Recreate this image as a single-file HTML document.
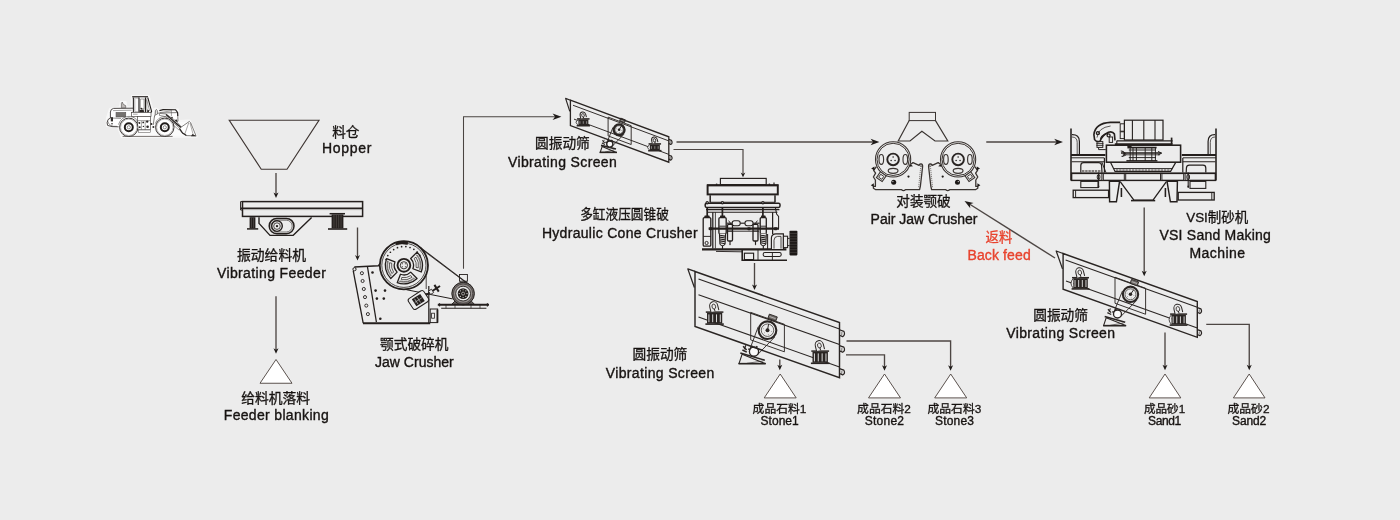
<!DOCTYPE html>
<html lang="zh"><head><meta charset="utf-8"><title>Sand making production line flow</title>
<style>
html,body{margin:0;padding:0;background:#ececec;}
body{width:1400px;height:520px;overflow:hidden;font-family:"Liberation Sans","Noto Sans CJK SC",sans-serif;}
svg{display:block;will-change:transform;}
text{font-family:"Liberation Sans","Noto Sans CJK SC",sans-serif;}
</style></head><body>
<svg width="1400" height="520" viewBox="0 0 1400 520" stroke-linecap="butt" stroke-linejoin="miter">
<rect width="1400" height="520" fill="#ececec"/>
<polygon points="229.25,120.25 319,120.25 287,169.25 261.25,169.25" fill="none" stroke="#3e3532" stroke-width="1.15" />
<g id="m_loader"><path d="M107 118 L110 109 L120 107.4 L121 102 L125.6 102 L126.4 107.6 L132 107.6 L132 96 L148.6 96 L152.4 110 L156 108.6 L158 110 L177.8 109.6 L178.4 121 L189.6 120.6 L196.6 136.6 L122 137 L118 127 L107 126 Z" fill="#fbfbfb" stroke="#f7f7f7" stroke-width="2.2" stroke-linejoin="round"/><polyline points="122.6,136.4 172.6,136.4" fill="none" stroke="#77726f" stroke-width="1" /><path d="M133 108.2 L113.6 108.4 Q110.6 108.8 110.4 112 L110.4 118 L108 119.6 Q106.4 123 107.6 125.4 L112 126.6 L118.6 126.8" fill="#ffffff" stroke="#3a3634" stroke-width="0.9" /><path d="M110.4 118 L121 118.4" fill="none" stroke="#4e4a48" stroke-width="0.6" /><polyline points="113,110.6 131.6,110.2" fill="none" stroke="#4e4a48" stroke-width="0.5" /><rect x="116" y="112.4" width="9.8" height="4.6" rx="0" fill="#7d7977" stroke="#4e4a48" stroke-width="0.5" /><polyline points="118,112.4 118,117" fill="none" stroke="#55514f" stroke-width="0.35" /><polyline points="120,112.4 120,117" fill="none" stroke="#55514f" stroke-width="0.35" /><polyline points="122,112.4 122,117" fill="none" stroke="#55514f" stroke-width="0.35" /><polyline points="124,112.4 124,117" fill="none" stroke="#55514f" stroke-width="0.35" /><rect x="110.8" y="117.2" width="2.2" height="4.2" rx="0" fill="#2f2b29" stroke="#4e4a48" stroke-width="0" /><circle cx="112" cy="123.8" r="0.8" fill="#2f2b29" stroke="#4e4a48" stroke-width="0" /><path d="M107.6 121 Q109 127 117 126.4" fill="none" stroke="#4e4a48" stroke-width="0.6" /><path d="M121.4 107.8 L121.4 103.4 L122.2 102 L123.4 104.4 L125.6 105.6 L125.8 107.8 Z" fill="#bdb9b7" stroke="#4e4a48" stroke-width="0.6" /><polyline points="132.2,96.7 148,96.7" fill="none" stroke="#3a3634" stroke-width="1.3" /><polyline points="132.6,98 147.6,98" fill="none" stroke="#4e4a48" stroke-width="0.5" /><path d="M133.4 97.4 L133.4 112.4" fill="none" stroke="#2a2624" stroke-width="1.1" /><path d="M139 97.6 L139 114.6 L145.4 114.6 L145.4 97.6" fill="#ffffff" stroke="#211d1b" stroke-width="1.2" /><path d="M140.4 99 L140.4 108.8 L144 108.8 L144 99 Z" fill="#ffffff" stroke="#4e4a48" stroke-width="0.5" /><path d="M147.8 97.6 L151.6 111.4 L149.6 114.4 L147.2 114.4" fill="none" stroke="#211d1b" stroke-width="1.1" /><path d="M146.6 99.4 L149.6 110.6 L147 113 L146.6 99.4" fill="none" stroke="#4e4a48" stroke-width="0.5" /><polyline points="134.8,99 134.8,111.6" fill="none" stroke="#4e4a48" stroke-width="0.4" /><polyline points="134.8,111.6 138.6,111.8" fill="none" stroke="#4e4a48" stroke-width="0.4" /><path d="M139.6 110 L143.6 109.4 L144.6 114.4 L139.4 114.4 Z" fill="#2a2624" stroke="#4e4a48" stroke-width="0" /><circle cx="141.4" cy="108.6" r="0.9" fill="#2a2624" stroke="#4e4a48" stroke-width="0" /><path d="M147.4 109.4 L149.2 110.4 L148.4 113.4 L147 113 Z" fill="#2a2624" stroke="#4e4a48" stroke-width="0" /><rect x="131.4" y="112.4" width="19.6" height="4" rx="0" fill="#ffffff" stroke="#4e4a48" stroke-width="0.7" /><polyline points="133,114.2 137.6,114.2" fill="none" stroke="#4e4a48" stroke-width="0.5" /><rect x="137.6" y="116.4" width="12.8" height="13.4" rx="0" fill="#ffffff" stroke="#4e4a48" stroke-width="0.7" /><polyline points="137.6,120.6 150.4,120.6" fill="none" stroke="#4e4a48" stroke-width="0.5" /><circle cx="139.4" cy="123" r="0.9" fill="#2a2624" stroke="#4e4a48" stroke-width="0" /><circle cx="143.2" cy="122.4" r="0.9" fill="#2a2624" stroke="#4e4a48" stroke-width="0" /><circle cx="147.2" cy="121.6" r="1.2" fill="#2a2624" stroke="#4e4a48" stroke-width="0" /><circle cx="139.8" cy="127.2" r="0.9" fill="#2a2624" stroke="#4e4a48" stroke-width="0" /><circle cx="147.6" cy="126.8" r="1.3" fill="#2a2624" stroke="#4e4a48" stroke-width="0" /><circle cx="151.4" cy="124" r="1" fill="#2a2624" stroke="#4e4a48" stroke-width="0" /><circle cx="153.4" cy="127" r="1" fill="#2a2624" stroke="#4e4a48" stroke-width="0" /><circle cx="143.4" cy="126.4" r="0.7" fill="#2a2624" stroke="#4e4a48" stroke-width="0" /><polyline points="141.4,121 141.4,129.6" fill="none" stroke="#4e4a48" stroke-width="0.5" /><polyline points="145.2,121 145.2,129.6" fill="none" stroke="#4e4a48" stroke-width="0.5" /><rect x="138.4" y="130" width="12" height="2.4" rx="0" fill="#ffffff" stroke="#4e4a48" stroke-width="0.5" /><polyline points="130.2,133.6 130.2,136.2" fill="none" stroke="#4e4a48" stroke-width="0.4" /><path d="M155 117.6 L155.4 110.6 Q156.2 108.6 157.2 110.4 L157.6 117.8" fill="#ffffff" stroke="#4e4a48" stroke-width="0.8" /><path d="M153.2 125 L154.6 115.6 L158.8 113 L177.6 112.6 L178 121.2 L173 124" fill="#ffffff" stroke="#4e4a48" stroke-width="0.7" /><path d="M159.4 110.6 L163 109.6 L175.6 109.8 L177.6 112.4 L177.8 116" fill="none" stroke="#211d1b" stroke-width="1.1" /><polyline points="160,112.6 171.4,110.8" fill="none" stroke="#4e4a48" stroke-width="0.5" /><polyline points="171.4,110.2 171.4,116" fill="none" stroke="#4e4a48" stroke-width="0.5" /><path d="M159.6 113.4 L166 114 L176 121 L181.6 127.2 L180 128.6 L173.4 122.6 L165.4 116.6 L159.4 115.4 Z" fill="#ffffff" stroke="#4e4a48" stroke-width="0.6" /><polyline points="166,114.6 181,127.6" fill="none" stroke="#211d1b" stroke-width="1.3" /><circle cx="176.2" cy="120.6" r="1.1" fill="#2a2624" stroke="#4e4a48" stroke-width="0" /><circle cx="172" cy="117.6" r="0.8" fill="#2a2624" stroke="#4e4a48" stroke-width="0" /><circle cx="177.4" cy="124.6" r="0.8" fill="#2a2624" stroke="#4e4a48" stroke-width="0" /><circle cx="169.6" cy="120.8" r="0.7" fill="#2a2624" stroke="#4e4a48" stroke-width="0" /><polyline points="167,119.4 179.4,130.4" fill="none" stroke="#4e4a48" stroke-width="0.5" /><path d="M179.4 128.4 L189.4 121.4 L190.6 122.6 L196 135.8 L186.6 135.6 L181.6 132.4 Z" fill="#ffffff" stroke="#4e4a48" stroke-width="0.7" /><polyline points="188.8,122.6 184.6,134.6" fill="none" stroke="#4e4a48" stroke-width="0.5" /><polyline points="190,123 193.4,135.4" fill="none" stroke="#4e4a48" stroke-width="0.45" /><path d="M179.6 128.6 L182.6 133 L186.4 135.4" fill="none" stroke="#2f2b29" stroke-width="1.2" /><polygon points="192.4,134 196.6,136.2 191,136.2" fill="#2f2b29" stroke="#4e4a48" stroke-width="0" /><circle cx="128.8" cy="127.3" r="9.2" fill="#ffffff" stroke="#3a3634" stroke-width="1" /><circle cx="128.8" cy="127.3" r="8.2" fill="none" stroke="#4e4a48" stroke-width="0.4" /><circle cx="128.8" cy="127.3" r="4" fill="#ffffff" stroke="#211d1b" stroke-width="2" /><circle cx="128.8" cy="127.3" r="1.6" fill="#ffffff" stroke="#4e4a48" stroke-width="0.6" /><circle cx="164.8" cy="127.3" r="9.2" fill="#ffffff" stroke="#3a3634" stroke-width="1" /><circle cx="164.8" cy="127.3" r="8.2" fill="none" stroke="#4e4a48" stroke-width="0.4" /><circle cx="164.8" cy="127.3" r="4" fill="#ffffff" stroke="#211d1b" stroke-width="2" /><circle cx="164.8" cy="127.3" r="1.6" fill="#ffffff" stroke="#4e4a48" stroke-width="0.6" /><path d="M118.4 124.6 Q121.4 116.4 129 116.4 Q136 116.6 138.4 123" fill="none" stroke="#4e4a48" stroke-width="0.6" /><path d="M155.2 123.6 Q158 116.6 165 116.6 Q171.6 116.8 174.2 123" fill="none" stroke="#4e4a48" stroke-width="0.6" /></g>
<g id="m_feeder"><rect x="242.5" y="201.6" width="120.1" height="14.8" rx="0" fill="none" stroke="#241f1d" stroke-width="1.5" /><polyline points="241,208.2 362.6,208.2" fill="none" stroke="#241f1d" stroke-width="1.5" /><polyline points="243,209.6 362,209.6" fill="none" stroke="#6d6866" stroke-width="0.5" /><path d="M242.5 201.6 L240.6 201.6 L240.6 210 L242.5 210" fill="none" stroke="#241f1d" stroke-width="1" /><rect x="249.6" y="217.2" width="5.8" height="11.2" rx="0" fill="#241f1d" stroke="#241f1d" stroke-width="0" /><polyline points="251.53,217.8 251.53,227.8" fill="none" stroke="#8a8583" stroke-width="0.35" /><polyline points="253.47,217.8 253.47,227.8" fill="none" stroke="#8a8583" stroke-width="0.35" /><polyline points="247,228.9 258.2,228.9" fill="none" stroke="#241f1d" stroke-width="1.5" /><polyline points="329.6,213.7 345,213.7" fill="none" stroke="#241f1d" stroke-width="1.5" /><rect x="331.6" y="214.4" width="11.8" height="14" rx="0" fill="#241f1d" stroke="#241f1d" stroke-width="0" /><polyline points="333.96,215 333.96,227.8" fill="none" stroke="#8a8583" stroke-width="0.35" /><polyline points="336.32,215 336.32,227.8" fill="none" stroke="#8a8583" stroke-width="0.35" /><polyline points="338.68,215 338.68,227.8" fill="none" stroke="#8a8583" stroke-width="0.35" /><polyline points="341.04,215 341.04,227.8" fill="none" stroke="#8a8583" stroke-width="0.35" /><polyline points="328,229 347.2,229" fill="none" stroke="#241f1d" stroke-width="1.6" /><polyline points="259,217.2 259,223.4 270,235.4 293,235.4 311.6,217.6" fill="none" stroke="#241f1d" stroke-width="1.4" stroke-linejoin="round"/><rect x="269.2" y="218.4" width="24.8" height="15.4" rx="7.7" fill="none" stroke="#241f1d" stroke-width="1.5" /><rect x="271" y="220.2" width="21.2" height="11.8" rx="5.9" fill="none" stroke="#241f1d" stroke-width="0.6" /><circle cx="277" cy="226.1" r="5.3" fill="none" stroke="#241f1d" stroke-width="1.4" /><circle cx="277" cy="226.1" r="3.3" fill="none" stroke="#241f1d" stroke-width="0.8" /><circle cx="277" cy="226.1" r="1.2" fill="#241f1d" stroke="#241f1d" stroke-width="0" /></g>
<g id="m_jaw"><circle cx="354.5" cy="269.2" r="1.6" fill="none" stroke="#241f1d" stroke-width="1" /><polyline points="354.3,266.9 378.4,265.7 380.2,263.6" fill="none" stroke="#241f1d" stroke-width="1.5" /><polyline points="353.2,270.6 363.2,323.1" fill="none" stroke="#241f1d" stroke-width="1.3" /><polyline points="367.4,266.4 376.4,322.2" fill="none" stroke="#241f1d" stroke-width="1.25" /><polyline points="363,323.2 430.2,323.2" fill="none" stroke="#241f1d" stroke-width="2" /><polyline points="428.8,286 428.8,323" fill="none" stroke="#241f1d" stroke-width="1.2" /><polyline points="426.2,276 426.2,289" fill="none" stroke="#241f1d" stroke-width="0.8" /><rect x="430.2" y="309" width="7.4" height="13.6" rx="0" fill="none" stroke="#241f1d" stroke-width="1" /><polyline points="437.4,309.6 437.4,322.6" fill="none" stroke="#241f1d" stroke-width="1.8" /><rect x="431.6" y="313.2" width="2.8" height="5" rx="0" fill="none" stroke="#241f1d" stroke-width="0.8" /><circle cx="361.9" cy="273.2" r="1.55" fill="none" stroke="#241f1d" stroke-width="0.9" /><circle cx="362.6" cy="281" r="1.55" fill="none" stroke="#241f1d" stroke-width="0.9" /><circle cx="363.8" cy="289" r="1.55" fill="none" stroke="#241f1d" stroke-width="0.9" /><circle cx="365" cy="297.1" r="1.55" fill="none" stroke="#241f1d" stroke-width="0.9" /><circle cx="366.3" cy="305.6" r="1.55" fill="none" stroke="#241f1d" stroke-width="0.9" /><circle cx="367.9" cy="314.1" r="1.55" fill="none" stroke="#241f1d" stroke-width="0.9" /><circle cx="372.5" cy="272.5" r="1.3" fill="#241f1d" stroke="#241f1d" stroke-width="0" /><circle cx="375.6" cy="290.6" r="1.3" fill="#241f1d" stroke="#241f1d" stroke-width="0" /><circle cx="385" cy="290.6" r="1.3" fill="#241f1d" stroke="#241f1d" stroke-width="0" /><circle cx="376.9" cy="298.6" r="1.3" fill="#241f1d" stroke="#241f1d" stroke-width="0" /><circle cx="383.8" cy="298.6" r="1.3" fill="#241f1d" stroke="#241f1d" stroke-width="0" /><circle cx="380.3" cy="318.8" r="1.3" fill="#241f1d" stroke="#241f1d" stroke-width="0" /><polyline points="415.5,243.9 470.6,285.6" fill="none" stroke="#241f1d" stroke-width="1.1" /><polyline points="412.6,242.6 472.4,287.4" fill="none" stroke="#241f1d" stroke-width="0.6" /><polyline points="406.3,289.7 452.6,298.9" fill="none" stroke="#241f1d" stroke-width="1" /><circle cx="403.9" cy="265.3" r="24.1" fill="#ececec" stroke="#241f1d" stroke-width="1.8" /><circle cx="403.9" cy="265.3" r="22.1" fill="none" stroke="#241f1d" stroke-width="0.8" /><path d="M395.4 242.3 Q401.8 240.2 408 241.9 L407.4 244.7 Q401.8 243.2 396.2 245 Z" fill="#241f1d" stroke="#241f1d" stroke-width="0.4" /><circle cx="386.02" cy="259.49" r="0.85" fill="#241f1d" stroke="#241f1d" stroke-width="0" /><circle cx="387.79" cy="255.62" r="0.85" fill="#241f1d" stroke="#241f1d" stroke-width="0" /><circle cx="390.38" cy="252.24" r="0.85" fill="#241f1d" stroke="#241f1d" stroke-width="0" /><circle cx="393.66" cy="249.53" r="0.85" fill="#241f1d" stroke="#241f1d" stroke-width="0" /><circle cx="397.47" cy="247.63" r="0.85" fill="#241f1d" stroke="#241f1d" stroke-width="0" /><circle cx="401.61" cy="246.64" r="0.85" fill="#241f1d" stroke="#241f1d" stroke-width="0" /><circle cx="405.87" cy="246.6" r="0.85" fill="#241f1d" stroke="#241f1d" stroke-width="0" /><circle cx="410.02" cy="247.52" r="0.85" fill="#241f1d" stroke="#241f1d" stroke-width="0" /><circle cx="413.86" cy="249.36" r="0.85" fill="#241f1d" stroke="#241f1d" stroke-width="0" /><circle cx="417.19" cy="252.01" r="0.85" fill="#241f1d" stroke="#241f1d" stroke-width="0" /><circle cx="419.84" cy="255.34" r="0.85" fill="#241f1d" stroke="#241f1d" stroke-width="0" /><circle cx="403.9" cy="265.3" r="6.4" fill="none" stroke="#241f1d" stroke-width="1.9" /><circle cx="403.9" cy="265.3" r="3.6" fill="none" stroke="#241f1d" stroke-width="0.9" /><circle cx="405.38" cy="266.78" r="0.55" fill="#241f1d" stroke="#241f1d" stroke-width="0" /><circle cx="402.42" cy="266.78" r="0.55" fill="#241f1d" stroke="#241f1d" stroke-width="0" /><circle cx="402.42" cy="263.82" r="0.55" fill="#241f1d" stroke="#241f1d" stroke-width="0" /><circle cx="405.38" cy="263.82" r="0.55" fill="#241f1d" stroke="#241f1d" stroke-width="0" /><path d="M417.05 278.45A18.6 18.6 0 0 1 397.23 282.66L400.46 274.26A9.6 9.6 0 0 0 410.69 272.09 Z" fill="none" stroke="#241f1d" stroke-width="1.3" stroke-linejoin="round"/><path d="M412.06 277.4A14.6 14.6 0 0 1 401.36 279.68L401.75 277.51A12.4 12.4 0 0 0 410.83 275.58 Z" fill="none" stroke="#241f1d" stroke-width="0.7" stroke-linejoin="round"/><path d="M414.54 278.43A16.9 16.9 0 0 1 399.53 281.62L399.71 280.95A16.2 16.2 0 0 0 414.09 277.89 Z" fill="none" stroke="#241f1d" stroke-width="0.5" /><path d="M390.75 278.45A18.6 18.6 0 0 1 386.54 258.63L394.94 261.86A9.6 9.6 0 0 0 397.11 272.09 Z" fill="none" stroke="#241f1d" stroke-width="1.3" stroke-linejoin="round"/><path d="M391.8 273.46A14.6 14.6 0 0 1 389.52 262.76L391.69 263.15A12.4 12.4 0 0 0 393.62 272.23 Z" fill="none" stroke="#241f1d" stroke-width="0.7" stroke-linejoin="round"/><path d="M390.77 275.94A16.9 16.9 0 0 1 387.58 260.93L388.25 261.11A16.2 16.2 0 0 0 391.31 275.49 Z" fill="none" stroke="#241f1d" stroke-width="0.5" /><path d="M417.05 252.15A18.6 18.6 0 0 1 421.26 271.97L412.86 268.74A9.6 9.6 0 0 0 410.69 258.51 Z" fill="none" stroke="#241f1d" stroke-width="1.3" stroke-linejoin="round"/><path d="M416 257.14A14.6 14.6 0 0 1 418.28 267.84L416.11 267.45A12.4 12.4 0 0 0 414.18 258.37 Z" fill="none" stroke="#241f1d" stroke-width="0.7" stroke-linejoin="round"/><path d="M417.03 254.66A16.9 16.9 0 0 1 420.22 269.67L419.55 269.49A16.2 16.2 0 0 0 416.49 255.11 Z" fill="none" stroke="#241f1d" stroke-width="0.5" /><g transform="translate(0.6 -0.8) rotate(-33 418.2 300.6)"><rect x="408.6" y="294.2" width="18.4" height="12.8" rx="2.5" fill="#ececec" stroke="#241f1d" stroke-width="1" /><rect x="412.6" y="296.4" width="10" height="8.4" rx="0" fill="#241f1d" stroke="#241f1d" stroke-width="0" /><polyline points="415.2,297.4 415.2,303.8" fill="none" stroke="#e4e4e4" stroke-width="0.55" /><polyline points="418.2,297.4 418.2,303.8" fill="none" stroke="#e4e4e4" stroke-width="0.55" /><polyline points="413.4,300.6 421.8,300.6" fill="none" stroke="#e4e4e4" stroke-width="0.5" /><polyline points="427,300.6 443.5,300.6" fill="none" stroke="#241f1d" stroke-width="2" /><polyline points="439.4,296.6 439.4,304.6" fill="none" stroke="#241f1d" stroke-width="2" /><rect x="431" y="298.6" width="3.6" height="4" rx="0" fill="#ececec" stroke="#241f1d" stroke-width="0.8" /></g><rect x="459.5" y="274.5" width="7.9" height="6.7" rx="0" fill="none" stroke="#241f1d" stroke-width="0.9" /><polyline points="460.6,281.2 460.6,284 466.2,284 466.2,281.2" fill="none" stroke="#241f1d" stroke-width="0.7" /><polygon points="455,301 451.6,304.4 474.6,304.4 471.2,301" fill="#6d6866" stroke="#241f1d" stroke-width="0.9" /><circle cx="463.1" cy="293.6" r="11.3" fill="#6f6a68" stroke="#241f1d" stroke-width="1" /><circle cx="463.1" cy="293.6" r="9.6" fill="#96918f" stroke="#3d3836" stroke-width="0.7" /><circle cx="463.1" cy="293.6" r="7.4" fill="#ececec" stroke="#241f1d" stroke-width="0.9" /><circle cx="463.1" cy="293.6" r="5.4" fill="#241f1d" stroke="#241f1d" stroke-width="0" /><circle cx="467" cy="293.6" r="0.55" fill="#efefef" stroke="#241f1d" stroke-width="0" /><circle cx="465.86" cy="296.36" r="0.55" fill="#efefef" stroke="#241f1d" stroke-width="0" /><circle cx="463.1" cy="297.5" r="0.55" fill="#efefef" stroke="#241f1d" stroke-width="0" /><circle cx="460.34" cy="296.36" r="0.55" fill="#efefef" stroke="#241f1d" stroke-width="0" /><circle cx="459.2" cy="293.6" r="0.55" fill="#efefef" stroke="#241f1d" stroke-width="0" /><circle cx="460.34" cy="290.84" r="0.55" fill="#efefef" stroke="#241f1d" stroke-width="0" /><circle cx="463.1" cy="289.7" r="0.55" fill="#efefef" stroke="#241f1d" stroke-width="0" /><circle cx="465.86" cy="290.84" r="0.55" fill="#efefef" stroke="#241f1d" stroke-width="0" /><circle cx="463.1" cy="293.6" r="1.5" fill="#241f1d" stroke="#efefef" stroke-width="0.6" /><polyline points="437.8,304.7 489,304.7" fill="none" stroke="#241f1d" stroke-width="1.9" /><polyline points="441.2,308.2 486.4,308.2" fill="none" stroke="#241f1d" stroke-width="1.1" /><polyline points="446,304.7 446,308.2" fill="none" stroke="#241f1d" stroke-width="0.7" /><polyline points="455,304.7 455,308.2" fill="none" stroke="#241f1d" stroke-width="0.7" /><polyline points="471,304.7 471,308.2" fill="none" stroke="#241f1d" stroke-width="0.7" /><polyline points="480,304.7 480,308.2" fill="none" stroke="#241f1d" stroke-width="0.7" /><polyline points="439.5,303.2 439.5,306.4" fill="none" stroke="#241f1d" stroke-width="1.2" /><polyline points="487.4,303.2 487.4,306.4" fill="none" stroke="#241f1d" stroke-width="1.2" /></g>
<g id="m_screens"><polygon points="570.4,100.19 668.8,136.79 668.8,162.19 570.4,125.59" fill="#ececec" stroke="#2a2523" stroke-width="0" /><path d="M668.8 139.4 L671.4 140.37 Q673.1 143.17 670.67 144.5 L668.8 143.5" fill="#ececec" stroke="#2a2523" stroke-width="1.2" stroke-linejoin="round"/><polyline points="670.23,141.13 670.1,143.68" fill="none" stroke="#2a2523" stroke-width="0.6" /><path d="M668.8 155.2 L671.4 156.17 Q673.1 158.87 670.67 160.1 L668.8 159.1" fill="#ececec" stroke="#2a2523" stroke-width="1.2" stroke-linejoin="round"/><polyline points="670.23,156.93 670.1,159.28" fill="none" stroke="#2a2523" stroke-width="0.6" /><polyline points="573,105.25 668.8,140.89" fill="none" stroke="#2a2523" stroke-width="0.95" /><polyline points="574,119.12 668.8,154.39" fill="none" stroke="#2a2523" stroke-width="0.95" /><polygon points="608.1,117.11 631.2,125.7 631.2,144.5 608.1,135.91" fill="none" stroke="#2f2a27" stroke-width="0.95" /><rect x="578.25" y="119.4" width="10.1" height="5.8" rx="0" fill="#2a2523" stroke="#2a2523" stroke-width="0" /><polyline points="579.93,121.2 579.93,123.8" fill="none" stroke="#e9e9e9" stroke-width="0.5" /><polyline points="583.3,121.2 583.3,123.8" fill="none" stroke="#e9e9e9" stroke-width="0.5" /><polyline points="586.67,121.2 586.67,123.8" fill="none" stroke="#e9e9e9" stroke-width="0.5" /><polyline points="577.05,118.9 589.55,118.9" fill="none" stroke="#2a2523" stroke-width="1.5" /><polyline points="576.65,125.7 589.95,125.7" fill="none" stroke="#2a2523" stroke-width="1.6" /><path d="M578.25 119.7 Q573.85 122.3 578.25 124.9" fill="#ececec" stroke="#2a2523" stroke-width="0.8" /><g transform="rotate(-14 583.3 118.2)"><path d="M580.82 118 L580.82 115.05 A2.88 3.31 0 0 1 586.57 115.05 L586.57 118" fill="#ececec" stroke="#2a2523" stroke-width="1" /><ellipse cx="583.7" cy="115.35" rx="1.29" ry="1.78" fill="none" stroke="#2a2523" stroke-width="0.8" /><polyline points="583.7,116.77 583.7,118.2" fill="none" stroke="#2a2523" stroke-width="0.9" /></g><rect x="649.75" y="144.4" width="10.1" height="5.8" rx="0" fill="#2a2523" stroke="#2a2523" stroke-width="0" /><polyline points="651.43,146.2 651.43,148.8" fill="none" stroke="#e9e9e9" stroke-width="0.5" /><polyline points="654.8,146.2 654.8,148.8" fill="none" stroke="#e9e9e9" stroke-width="0.5" /><polyline points="658.17,146.2 658.17,148.8" fill="none" stroke="#e9e9e9" stroke-width="0.5" /><polyline points="648.55,143.9 661.05,143.9" fill="none" stroke="#2a2523" stroke-width="1.5" /><polyline points="648.15,150.7 661.45,150.7" fill="none" stroke="#2a2523" stroke-width="1.6" /><path d="M649.75 144.7 Q645.35 147.3 649.75 149.9" fill="#ececec" stroke="#2a2523" stroke-width="0.8" /><g transform="rotate(-14 654.8 143.2)"><path d="M652.32 143 L652.32 140.05 A2.88 3.31 0 0 1 658.07 140.05 L658.07 143" fill="#ececec" stroke="#2a2523" stroke-width="1" /><ellipse cx="655.2" cy="140.35" rx="1.29" ry="1.78" fill="none" stroke="#2a2523" stroke-width="0.8" /><polyline points="655.2,141.77 655.2,143.2" fill="none" stroke="#2a2523" stroke-width="0.9" /></g><polygon points="600.2,152.4 616.4,152.4 602.14,146.57" fill="#ececec" stroke="#2a2523" stroke-width="1.1" stroke-linejoin="round"/><polyline points="601.01,145.37 616,149" fill="none" stroke="#2a2523" stroke-width="1.6" /><polyline points="599.6,152.4 617,152.4" fill="none" stroke="#2a2523" stroke-width="1.5" /><polyline points="605.06,152.1 614.4,149.8" fill="none" stroke="#2a2523" stroke-width="0.6" /><polyline points="606.9,142.75 605.45,142.07" fill="none" stroke="#2a2523" stroke-width="1.5" /><polyline points="608.71,141.09 608.16,139.59" fill="none" stroke="#2a2523" stroke-width="1.5" /><polyline points="611.4,141.33 612.2,139.94" fill="none" stroke="#2a2523" stroke-width="1.5" /><polyline points="602.38,140.42 604.76,143.01" fill="none" stroke="#2a2523" stroke-width="1.02" /><polyline points="604.22,139.74 603.26,142.47" fill="none" stroke="#2a2523" stroke-width="0.82" /><polyline points="601.9,143.01 604.9,144.51" fill="none" stroke="#2a2523" stroke-width="1.02" /><circle cx="609.8" cy="144.1" r="3.1" fill="#fbfbfb" stroke="#2a2523" stroke-width="1.35" /><polyline points="612.96,127.38 606.82,142.93" fill="none" stroke="#2a2523" stroke-width="0.9" /><polyline points="623.8,134.43 612.08,146.34" fill="none" stroke="#2a2523" stroke-width="0.9" /><circle cx="619.1" cy="129.8" r="5.45" fill="#ececec" stroke="#2a2523" stroke-width="2.3" /><circle cx="619.1" cy="129.8" r="4.16" fill="none" stroke="#2a2523" stroke-width="0.7" /><circle cx="619.1" cy="129.8" r="1.32" fill="#2a2523" stroke="#2a2523" stroke-width="0" /><polyline points="619.1,129.8 621.15,126.26" fill="none" stroke="#2a2523" stroke-width="1" /><circle cx="621.7" cy="130.75" r="0.35" fill="#2a2523" stroke="#2a2523" stroke-width="0" /><circle cx="619.58" cy="132.53" r="0.35" fill="#2a2523" stroke="#2a2523" stroke-width="0" /><circle cx="616.98" cy="131.58" r="0.35" fill="#2a2523" stroke="#2a2523" stroke-width="0" /><circle cx="616.5" cy="128.85" r="0.35" fill="#2a2523" stroke="#2a2523" stroke-width="0" /><g transform="rotate(20.41 622.6 120.4)"><rect x="620" y="118.9" width="5.2" height="3" rx="0" fill="#6d6865" stroke="#2a2523" stroke-width="0.8" /><polyline points="621,120.4 624.2,120.4" fill="none" stroke="#d8d8d8" stroke-width="0.6" /></g><polygon points="570.4,100.19 668.8,136.79 668.8,162.19 570.4,125.59" fill="none" stroke="#2a2523" stroke-width="1.3" /><polyline points="570.4,100.19 565.6,98.4 569.8,111.44" fill="none" stroke="#2a2523" stroke-width="1.17" stroke-linejoin="round"/><polygon points="695,271.45 839.5,322.6 839.5,377.6 695,326.45" fill="#ececec" stroke="#2a2523" stroke-width="0" /><path d="M839.5 329.8 L843.9 331.36 Q845.6 334.86 842.67 336.72 L839.5 335.3" fill="#ececec" stroke="#2a2523" stroke-width="1.2" stroke-linejoin="round"/><polyline points="841.92,331.86 841.7,335.78" fill="none" stroke="#2a2523" stroke-width="0.6" /><path d="M839.5 345.6 L843.9 347.16 Q845.6 350.56 842.67 352.32 L839.5 350.9" fill="#ececec" stroke="#2a2523" stroke-width="1.2" stroke-linejoin="round"/><polyline points="841.92,347.66 841.7,351.38" fill="none" stroke="#2a2523" stroke-width="0.6" /><path d="M839.5 368.6 L843.9 370.16 Q845.6 373.36 842.67 374.92 L839.5 373.5" fill="#ececec" stroke="#2a2523" stroke-width="1.2" stroke-linejoin="round"/><polyline points="841.92,370.66 841.7,373.98" fill="none" stroke="#2a2523" stroke-width="0.6" /><polyline points="698.5,278.99 839.5,328.9" fill="none" stroke="#2a2523" stroke-width="1.1" /><polyline points="698.5,294.69 839.5,344.6" fill="none" stroke="#2a2523" stroke-width="1.1" /><polyline points="698.5,316.99 839.5,366.9" fill="none" stroke="#2a2523" stroke-width="1.1" /><polygon points="750.7,312.37 784.4,324.3 784.4,351.8 750.7,339.87" fill="none" stroke="#2f2a27" stroke-width="0.95" /><rect x="707" y="312.6" width="15.2" height="11" rx="0" fill="#2a2523" stroke="#2a2523" stroke-width="0" /><polyline points="708.9,314.4 708.9,322.2" fill="none" stroke="#e9e9e9" stroke-width="0.92" /><polyline points="712.7,314.4 712.7,322.2" fill="none" stroke="#e9e9e9" stroke-width="0.92" /><polyline points="716.5,314.4 716.5,322.2" fill="none" stroke="#e9e9e9" stroke-width="0.92" /><polyline points="720.3,314.4 720.3,322.2" fill="none" stroke="#e9e9e9" stroke-width="0.92" /><polyline points="705.8,312.1 723.4,312.1" fill="none" stroke="#2a2523" stroke-width="1.5" /><polyline points="705.4,324.1 723.8,324.1" fill="none" stroke="#2a2523" stroke-width="1.6" /><g transform="rotate(-14 714.6 311.4)"><path d="M710.95 311.2 L710.95 306.25 A4.05 4.66 0 0 1 719.05 306.25 L719.05 311.2" fill="#ececec" stroke="#2a2523" stroke-width="1" /><ellipse cx="715" cy="306.55" rx="1.82" ry="2.51" fill="none" stroke="#2a2523" stroke-width="0.8" /><polyline points="715,308.68 715,311.4" fill="none" stroke="#2a2523" stroke-width="0.9" /></g><rect x="812.5" y="351.6" width="15.4" height="11.2" rx="0" fill="#2a2523" stroke="#2a2523" stroke-width="0" /><polyline points="814.43,353.4 814.43,361.4" fill="none" stroke="#e9e9e9" stroke-width="0.93" /><polyline points="818.28,353.4 818.28,361.4" fill="none" stroke="#e9e9e9" stroke-width="0.93" /><polyline points="822.13,353.4 822.13,361.4" fill="none" stroke="#e9e9e9" stroke-width="0.93" /><polyline points="825.98,353.4 825.98,361.4" fill="none" stroke="#e9e9e9" stroke-width="0.93" /><polyline points="811.3,351.1 829.1,351.1" fill="none" stroke="#2a2523" stroke-width="1.5" /><polyline points="810.9,363.3 829.5,363.3" fill="none" stroke="#2a2523" stroke-width="1.6" /><g transform="rotate(-14 820.2 350.4)"><path d="M816.51 350.2 L816.51 345.17 A4.09 4.71 0 0 1 824.69 345.17 L824.69 350.2" fill="#ececec" stroke="#2a2523" stroke-width="1" /><ellipse cx="820.6" cy="345.47" rx="1.84" ry="2.54" fill="none" stroke="#2a2523" stroke-width="0.8" /><polyline points="820.6,347.63 820.6,350.4" fill="none" stroke="#2a2523" stroke-width="0.9" /></g><polygon points="739,363.6 765.2,363.6 742.14,354.17" fill="#ececec" stroke="#2a2523" stroke-width="1.1" stroke-linejoin="round"/><polyline points="740.31,352.97 764.8,360.2" fill="none" stroke="#2a2523" stroke-width="1.6" /><polyline points="738.4,363.6 765.8,363.6" fill="none" stroke="#2a2523" stroke-width="1.5" /><polyline points="746.86,363.3 763.2,361" fill="none" stroke="#2a2523" stroke-width="0.6" /><polyline points="749.74,349.61 748.29,348.94" fill="none" stroke="#2a2523" stroke-width="1.5" /><polyline points="752.39,347.18 751.85,345.68" fill="none" stroke="#2a2523" stroke-width="1.5" /><polyline points="756.35,347.53 757.15,346.14" fill="none" stroke="#2a2523" stroke-width="1.5" /><polyline points="743.1,346.2 746.6,350" fill="none" stroke="#2a2523" stroke-width="1.5" /><polyline points="745.8,345.2 744.4,349.2" fill="none" stroke="#2a2523" stroke-width="1.2" /><polyline points="742.4,350 746.8,352.2" fill="none" stroke="#2a2523" stroke-width="1.5" /><circle cx="754" cy="351.6" r="4.6" fill="#fbfbfb" stroke="#2a2523" stroke-width="1.35" /><polyline points="758.22,326.75 749.59,349.96" fill="none" stroke="#2a2523" stroke-width="0.9" /><polyline points="774.61,337.09 757.37,354.87" fill="none" stroke="#2a2523" stroke-width="0.9" /><circle cx="767.5" cy="330.2" r="8.85" fill="#ececec" stroke="#2a2523" stroke-width="2.1" /><circle cx="767.5" cy="330.2" r="6.24" fill="none" stroke="#2a2523" stroke-width="0.7" /><circle cx="767.5" cy="330.2" r="1.98" fill="#2a2523" stroke="#2a2523" stroke-width="0" /><polyline points="767.5,330.2 768.57,324.16" fill="none" stroke="#2a2523" stroke-width="1" /><circle cx="771.41" cy="331.62" r="0.35" fill="#2a2523" stroke="#2a2523" stroke-width="0" /><circle cx="768.22" cy="334.29" r="0.35" fill="#2a2523" stroke="#2a2523" stroke-width="0" /><circle cx="764.31" cy="332.87" r="0.35" fill="#2a2523" stroke="#2a2523" stroke-width="0" /><circle cx="763.59" cy="328.78" r="0.35" fill="#2a2523" stroke="#2a2523" stroke-width="0" /><g transform="rotate(19.49 772.6 317.6)"><rect x="768.4" y="315.4" width="8.4" height="4.4" rx="0" fill="#6d6865" stroke="#2a2523" stroke-width="0.8" /><polyline points="769.4,317.6 775.8,317.6" fill="none" stroke="#d8d8d8" stroke-width="0.6" /></g><polygon points="695,271.45 839.5,322.6 839.5,377.6 695,326.45" fill="none" stroke="#2a2523" stroke-width="1.45" /><polyline points="695,271.45 687.8,268.9 694.4,287.46" fill="none" stroke="#2a2523" stroke-width="1.3" stroke-linejoin="round"/><polygon points="1063.1,253.47 1197.3,301.58 1197.3,337.38 1063.1,289.27" fill="#ececec" stroke="#2a2523" stroke-width="0" /><path d="M1197.3 307.6 L1200.9 308.89 Q1202.6 311.99 1199.89 313.53 L1197.3 312.3" fill="#ececec" stroke="#2a2523" stroke-width="1.2" stroke-linejoin="round"/><polyline points="1199.28,309.51 1199.1,312.65" fill="none" stroke="#2a2523" stroke-width="0.6" /><path d="M1197.3 329.6 L1200.9 330.89 Q1202.6 334.09 1199.89 335.73 L1197.3 334.5" fill="#ececec" stroke="#2a2523" stroke-width="1.2" stroke-linejoin="round"/><polyline points="1199.28,331.51 1199.1,334.85" fill="none" stroke="#2a2523" stroke-width="0.6" /><polyline points="1065.6,259.97 1197.3,307.18" fill="none" stroke="#2a2523" stroke-width="1.05" /><polyline points="1066,280.91 1197.3,327.98" fill="none" stroke="#2a2523" stroke-width="1.05" /><polygon points="1115,277.28 1145.6,288.25 1145.6,314.25 1115,303.28" fill="none" stroke="#2f2a27" stroke-width="0.95" /><rect x="1073.2" y="278.2" width="14.6" height="10.2" rx="0" fill="#2a2523" stroke="#2a2523" stroke-width="0" /><polyline points="1075.03,280 1075.03,287" fill="none" stroke="#e9e9e9" stroke-width="0.88" /><polyline points="1078.67,280 1078.67,287" fill="none" stroke="#e9e9e9" stroke-width="0.88" /><polyline points="1082.33,280 1082.33,287" fill="none" stroke="#e9e9e9" stroke-width="0.88" /><polyline points="1085.98,280 1085.98,287" fill="none" stroke="#e9e9e9" stroke-width="0.88" /><polyline points="1072,277.7 1089,277.7" fill="none" stroke="#2a2523" stroke-width="1.5" /><polyline points="1071.6,288.9 1089.4,288.9" fill="none" stroke="#2a2523" stroke-width="1.6" /><path d="M1073.2 278.5 Q1068.8 283.3 1073.2 288.1" fill="#ececec" stroke="#2a2523" stroke-width="0.8" /><g transform="rotate(-14 1080.5 277)"><path d="M1076.99 276.8 L1076.99 272.16 A3.91 4.5 0 0 1 1084.81 272.16 L1084.81 276.8" fill="#ececec" stroke="#2a2523" stroke-width="1" /><ellipse cx="1080.9" cy="272.46" rx="1.76" ry="2.42" fill="none" stroke="#2a2523" stroke-width="0.8" /><polyline points="1080.9,274.5 1080.9,277" fill="none" stroke="#2a2523" stroke-width="0.9" /></g><rect x="1171.3" y="314.6" width="14.6" height="10" rx="0" fill="#2a2523" stroke="#2a2523" stroke-width="0" /><polyline points="1173.12,316.4 1173.12,323.2" fill="none" stroke="#e9e9e9" stroke-width="0.88" /><polyline points="1176.77,316.4 1176.77,323.2" fill="none" stroke="#e9e9e9" stroke-width="0.88" /><polyline points="1180.42,316.4 1180.42,323.2" fill="none" stroke="#e9e9e9" stroke-width="0.88" /><polyline points="1184.08,316.4 1184.08,323.2" fill="none" stroke="#e9e9e9" stroke-width="0.88" /><polyline points="1170.1,314.1 1187.1,314.1" fill="none" stroke="#2a2523" stroke-width="1.5" /><polyline points="1169.7,325.1 1187.5,325.1" fill="none" stroke="#2a2523" stroke-width="1.6" /><path d="M1171.3 314.9 Q1166.9 319.6 1171.3 324.3" fill="#ececec" stroke="#2a2523" stroke-width="0.8" /><g transform="rotate(-14 1178.6 313.4)"><path d="M1175.09 313.2 L1175.09 308.63 A3.91 4.5 0 0 1 1182.91 308.63 L1182.91 313.2" fill="#ececec" stroke="#2a2523" stroke-width="1" /><ellipse cx="1179" cy="308.93" rx="1.76" ry="2.42" fill="none" stroke="#2a2523" stroke-width="0.8" /><polyline points="1179,310.98 1179,313.4" fill="none" stroke="#2a2523" stroke-width="0.9" /></g><polygon points="1103.6,325.6 1125.6,325.6 1106.24,317.68" fill="#ececec" stroke="#2a2523" stroke-width="1.1" stroke-linejoin="round"/><polyline points="1104.7,316.48 1125.2,322.2" fill="none" stroke="#2a2523" stroke-width="1.6" /><polyline points="1103,325.6 1126.2,325.6" fill="none" stroke="#2a2523" stroke-width="1.5" /><polyline points="1110.2,325.3 1123.6,323" fill="none" stroke="#2a2523" stroke-width="0.6" /><polyline points="1113.78,312.27 1112.33,311.59" fill="none" stroke="#2a2523" stroke-width="1.5" /><polyline points="1116.1,310.15 1115.55,308.64" fill="none" stroke="#2a2523" stroke-width="1.5" /><polyline points="1119.55,310.45 1120.35,309.06" fill="none" stroke="#2a2523" stroke-width="1.5" /><polyline points="1107.99,309.29 1111.04,312.6" fill="none" stroke="#2a2523" stroke-width="1.31" /><polyline points="1110.35,308.42 1109.13,311.91" fill="none" stroke="#2a2523" stroke-width="1.05" /><polyline points="1107.38,312.6 1111.22,314.52" fill="none" stroke="#2a2523" stroke-width="1.31" /><circle cx="1117.5" cy="314" r="4" fill="#fbfbfb" stroke="#2a2523" stroke-width="1.35" /><polyline points="1122.44,291.02 1113.7,312.45" fill="none" stroke="#2a2523" stroke-width="0.9" /><polyline points="1136.69,300.42 1120.42,316.88" fill="none" stroke="#2a2523" stroke-width="0.9" /><circle cx="1130.5" cy="294.3" r="7.65" fill="#ececec" stroke="#2a2523" stroke-width="2.1" /><circle cx="1130.5" cy="294.3" r="5.48" fill="none" stroke="#2a2523" stroke-width="0.7" /><circle cx="1130.5" cy="294.3" r="1.74" fill="#2a2523" stroke="#2a2523" stroke-width="0" /><polyline points="1130.5,294.3 1133.59,289.88" fill="none" stroke="#2a2523" stroke-width="1" /><circle cx="1133.93" cy="295.55" r="0.35" fill="#2a2523" stroke="#2a2523" stroke-width="0" /><circle cx="1131.13" cy="297.9" r="0.35" fill="#2a2523" stroke="#2a2523" stroke-width="0" /><circle cx="1127.7" cy="296.65" r="0.35" fill="#2a2523" stroke="#2a2523" stroke-width="0" /><circle cx="1127.07" cy="293.05" r="0.35" fill="#2a2523" stroke="#2a2523" stroke-width="0" /><g transform="rotate(19.72 1134.4 282.6)"><rect x="1130.6" y="280.5" width="7.6" height="4.2" rx="0" fill="#6d6865" stroke="#2a2523" stroke-width="0.8" /><polyline points="1131.6,282.6 1137.2,282.6" fill="none" stroke="#d8d8d8" stroke-width="0.6" /></g><polygon points="1063.1,253.47 1197.3,301.58 1197.3,337.38 1063.1,289.27" fill="none" stroke="#2a2523" stroke-width="1.4" /><polyline points="1063.1,253.47 1056.2,251 1062.5,268.87" fill="none" stroke="#2a2523" stroke-width="1.26" stroke-linejoin="round"/></g>
<g id="m_cone"><rect x="720.4" y="178.4" width="45.8" height="6.2" rx="0" fill="none" stroke="#241f1d" stroke-width="1.15" /><rect x="707.6" y="185.4" width="70.2" height="9" rx="0" fill="none" stroke="#241f1d" stroke-width="1.95" /><polyline points="707,184.9 778.4,184.9" fill="none" stroke="#241f1d" stroke-width="1.38" /><polyline points="716.6,183.6 716.6,185" fill="none" stroke="#241f1d" stroke-width="1.38" /><polyline points="769.4,183.6 769.4,185" fill="none" stroke="#241f1d" stroke-width="1.38" /><polyline points="774,182.4 774,185" fill="none" stroke="#241f1d" stroke-width="1.15" /><polyline points="710.2,195.2 710.2,202.4" fill="none" stroke="#241f1d" stroke-width="1.49" /><polyline points="775,195.2 775,202.4" fill="none" stroke="#241f1d" stroke-width="1.49" /><polyline points="710.2,202.2 775,202.2" fill="none" stroke="#241f1d" stroke-width="1.03" /><rect x="705.2" y="203.2" width="74.8" height="4.2" rx="1.4" fill="#ececec" stroke="#241f1d" stroke-width="1.49" /><polyline points="706,209.6 779.4,209.6" fill="none" stroke="#241f1d" stroke-width="1.15" /><polyline points="708,212.2 777.4,212.2" fill="none" stroke="#241f1d" stroke-width="1.03" /><circle cx="707.2" cy="202.8" r="1.7" fill="#241f1d" stroke="#241f1d" stroke-width="0" /><circle cx="707.2" cy="202.6" r="0.55" fill="#bdbdbd" stroke="#241f1d" stroke-width="0" /><polyline points="707.2,207.4 707.2,217.6" fill="none" stroke="#241f1d" stroke-width="1.72" /><circle cx="722.4" cy="202.8" r="1.7" fill="#241f1d" stroke="#241f1d" stroke-width="0" /><circle cx="722.4" cy="202.6" r="0.55" fill="#bdbdbd" stroke="#241f1d" stroke-width="0" /><polyline points="722.4,207.4 722.4,217.6" fill="none" stroke="#241f1d" stroke-width="1.72" /><circle cx="762.9" cy="202.8" r="1.7" fill="#241f1d" stroke="#241f1d" stroke-width="0" /><circle cx="762.9" cy="202.6" r="0.55" fill="#bdbdbd" stroke="#241f1d" stroke-width="0" /><polyline points="762.9,207.4 762.9,217.6" fill="none" stroke="#241f1d" stroke-width="1.72" /><polyline points="712.8,212.2 712.8,248.6" fill="none" stroke="#241f1d" stroke-width="1.26" /><polyline points="715.4,212.2 715.4,248.6" fill="none" stroke="#241f1d" stroke-width="0.8" /><polyline points="772.6,212.2 772.6,234" fill="none" stroke="#241f1d" stroke-width="1.26" /><polyline points="775.4,207.6 776.6,214 778.6,216.4 778.6,228.4" fill="none" stroke="#241f1d" stroke-width="1.03" /><rect x="732.2" y="220.8" width="8" height="5" rx="2.2" fill="#ececec" stroke="#241f1d" stroke-width="1.03" /><rect x="745" y="220.8" width="8" height="5" rx="2.2" fill="#ececec" stroke="#241f1d" stroke-width="1.03" /><polyline points="727,223.2 732.2,223.2" fill="none" stroke="#241f1d" stroke-width="1.15" /><polyline points="740.2,223.2 745,223.2" fill="none" stroke="#241f1d" stroke-width="1.15" /><polyline points="753,223.2 759.6,223.2" fill="none" stroke="#241f1d" stroke-width="1.15" /><polyline points="728.6,220.6 731.4,224.6" fill="none" stroke="#241f1d" stroke-width="0.92" /><polyline points="757.4,220.6 754.6,224.6" fill="none" stroke="#241f1d" stroke-width="0.92" /><rect x="703.2" y="217.6" width="7.6" height="28.6" rx="1.2" fill="#ececec" stroke="#241f1d" stroke-width="1.32" /><polyline points="703.2,236.4 710.8,236.4" fill="none" stroke="#241f1d" stroke-width="0.92" /><circle cx="706.6" cy="243" r="1.6" fill="none" stroke="#241f1d" stroke-width="0.92" /><rect x="718.9" y="217.6" width="7.3" height="16" rx="1.2" fill="#ececec" stroke="#241f1d" stroke-width="1.32" /><rect x="760.2" y="217.6" width="6.1" height="16" rx="1.2" fill="#ececec" stroke="#241f1d" stroke-width="1.32" /><rect x="704.4" y="215.6" width="5.2" height="2.2" rx="0.6" fill="#241f1d" stroke="#241f1d" stroke-width="0" /><rect x="720" y="215.6" width="5.2" height="2.2" rx="0.6" fill="#241f1d" stroke="#241f1d" stroke-width="0" /><rect x="761" y="215.6" width="4.6" height="2.2" rx="0.6" fill="#241f1d" stroke="#241f1d" stroke-width="0" /><polyline points="719.4,226.2 725.8,226.2" fill="none" stroke="#241f1d" stroke-width="0.92" /><polyline points="760.6,226.2 766,226.2" fill="none" stroke="#241f1d" stroke-width="0.92" /><path d="M719.4 233.6 L719.9 244 Q722.5 247.6 725.1 244 L725.6 233.6" fill="#ececec" stroke="#241f1d" stroke-width="1.03" /><polyline points="720,235.2 725,236.1" fill="none" stroke="#241f1d" stroke-width="1.15" /><polyline points="720,237.1 725,238" fill="none" stroke="#241f1d" stroke-width="1.15" /><polyline points="720,239 725,239.9" fill="none" stroke="#241f1d" stroke-width="1.15" /><polyline points="720,240.9 725,241.8" fill="none" stroke="#241f1d" stroke-width="1.15" /><polyline points="720,242.8 725,243.7" fill="none" stroke="#241f1d" stroke-width="1.15" /><polyline points="722.5,246 722.5,249.2" fill="none" stroke="#241f1d" stroke-width="1.15" /><path d="M760.2 233.6 L760.7 244 Q763.3 247.6 765.9 244 L766.4 233.6" fill="#ececec" stroke="#241f1d" stroke-width="1.03" /><polyline points="760.8,235.2 765.8,236.1" fill="none" stroke="#241f1d" stroke-width="1.15" /><polyline points="760.8,237.1 765.8,238" fill="none" stroke="#241f1d" stroke-width="1.15" /><polyline points="760.8,239 765.8,239.9" fill="none" stroke="#241f1d" stroke-width="1.15" /><polyline points="760.8,240.9 765.8,241.8" fill="none" stroke="#241f1d" stroke-width="1.15" /><polyline points="760.8,242.8 765.8,243.7" fill="none" stroke="#241f1d" stroke-width="1.15" /><polyline points="763.3,246 763.3,249.2" fill="none" stroke="#241f1d" stroke-width="1.15" /><rect x="727.5" y="224.4" width="5" height="16.6" rx="1.2" fill="#ececec" stroke="#241f1d" stroke-width="1.32" /><polyline points="727.5,231 732.5,231" fill="none" stroke="#241f1d" stroke-width="0.8" /><polyline points="730,241 730,244.2" fill="none" stroke="#241f1d" stroke-width="1.15" /><circle cx="730" cy="244.6" r="0.7" fill="#241f1d" stroke="#241f1d" stroke-width="0" /><rect x="753" y="224.4" width="5" height="16.6" rx="1.2" fill="#ececec" stroke="#241f1d" stroke-width="1.32" /><polyline points="753,231 758,231" fill="none" stroke="#241f1d" stroke-width="0.8" /><polyline points="755.5,241 755.5,244.2" fill="none" stroke="#241f1d" stroke-width="1.15" /><circle cx="755.5" cy="244.6" r="0.7" fill="#241f1d" stroke="#241f1d" stroke-width="0" /><polyline points="708.6,228.7 779,228.7" fill="none" stroke="#241f1d" stroke-width="2.18" /><polyline points="727,231.2 759,231.2" fill="none" stroke="#241f1d" stroke-width="0.92" /><rect x="709" y="227.2" width="3.2" height="3" rx="0.8" fill="#241f1d" stroke="#241f1d" stroke-width="0" /><rect x="747.4" y="227.2" width="3.2" height="3" rx="0.8" fill="#241f1d" stroke="#241f1d" stroke-width="0" /><rect x="774" y="227.2" width="3.2" height="3" rx="0.8" fill="#241f1d" stroke="#241f1d" stroke-width="0" /><polyline points="702,249.4 786.4,249.4" fill="none" stroke="#241f1d" stroke-width="2.18" /><polyline points="716,251.4 742,251.8" fill="none" stroke="#241f1d" stroke-width="0.92" /><polyline points="742.2,250 742.2,260.2 787,260.2" fill="none" stroke="#241f1d" stroke-width="1.61" /><rect x="744.4" y="253.2" width="9.2" height="6.4" rx="0" fill="none" stroke="#241f1d" stroke-width="1.15" /><rect x="763.2" y="252.6" width="18" height="3.8" rx="1.6" fill="#ececec" stroke="#241f1d" stroke-width="1.03" /><polyline points="772.4,252.6 772.4,260" fill="none" stroke="#241f1d" stroke-width="0.92" /><polyline points="758,250 758,260" fill="none" stroke="#241f1d" stroke-width="0.92" /><path d="M771.4 249 L771.4 238 Q771.6 233.8 776 233.8 L783.4 233.8 L783.4 249" fill="#ececec" stroke="#241f1d" stroke-width="1.15" /><rect x="783.4" y="236.2" width="4.2" height="11.4" rx="0" fill="#ececec" stroke="#241f1d" stroke-width="1.03" /><polyline points="787.6,238.4 789.6,238.4" fill="none" stroke="#241f1d" stroke-width="0.92" /><polyline points="787.6,245.6 789.6,245.6" fill="none" stroke="#241f1d" stroke-width="0.92" /><path d="M774 248.6 L774 240.2 Q774.2 236.4 777.6 236.4 L781 236.4 L781 248.6" fill="none" stroke="#241f1d" stroke-width="0.8" /><polyline points="767.6,234 767.6,249" fill="none" stroke="#241f1d" stroke-width="1.03" /><rect x="789.5" y="230.8" width="7.9" height="24.6" rx="0.8" fill="#1c1816" stroke="#241f1d" stroke-width="0" /><polyline points="789.8,233.5 797.2,233.5" fill="none" stroke="#6a6562" stroke-width="0.4" /><polyline points="789.8,236.2 797.2,236.2" fill="none" stroke="#6a6562" stroke-width="0.4" /><polyline points="789.8,238.9 797.2,238.9" fill="none" stroke="#6a6562" stroke-width="0.4" /><polyline points="789.8,241.6 797.2,241.6" fill="none" stroke="#6a6562" stroke-width="0.4" /><polyline points="789.8,244.3 797.2,244.3" fill="none" stroke="#6a6562" stroke-width="0.4" /><polyline points="789.8,247 797.2,247" fill="none" stroke="#6a6562" stroke-width="0.4" /><polyline points="789.8,249.7 797.2,249.7" fill="none" stroke="#6a6562" stroke-width="0.4" /><polyline points="789.8,252.4 797.2,252.4" fill="none" stroke="#6a6562" stroke-width="0.4" /></g>
<g id="m_pair"><rect x="909.2" y="112.4" width="26.3" height="8.2" rx="0" fill="none" stroke="#3a3431" stroke-width="1" /><polyline points="909.2,120.6 898.2,141 910,141 921.9,131.2 935,141 947.8,141 935.5,120.6" fill="none" stroke="#3a3431" stroke-width="1.15" /><path d="M876.4 166.6 L873.6 170.4 L875.6 173.2 L873.4 177 L875.4 180 L875.4 186.4 L873.4 186.4 L873.4 188.2 L875.8 189.7 L901.6 189.7 Q903.4 191.6 905.4 189.7 L919.6 189.7 L920.4 186 L922.6 166.6 Q922.8 164.2 921 164 Q919.4 163.8 919 165.4 L913 162.6 L910.8 164.2" fill="none" stroke="#3a3431" stroke-width="1.3" stroke-linejoin="round"/><polyline points="920.6,168 918.6,188" fill="none" stroke="#3a3431" stroke-width="0.6" stroke-dasharray="1.2 0.8"/><circle cx="921" cy="165.6" r="1" fill="#ececec" stroke="#3a3431" stroke-width="0.7" /><polygon points="874.4,166.6 871.2,168.6 874.6,170.4" fill="#1c1816" stroke="#3a3431" stroke-width="0" /><polygon points="873.8,183.2 870.8,185.2 873.8,187" fill="#1c1816" stroke="#3a3431" stroke-width="0" /><polygon points="909.6,163.4 913,166.2 909,166.8" fill="#1c1816" stroke="#3a3431" stroke-width="0" /><circle cx="893.1" cy="159.4" r="17.6" fill="#ececec" stroke="#3a3431" stroke-width="1.1" /><circle cx="893.1" cy="159.4" r="16.1" fill="none" stroke="#3a3431" stroke-width="1" /><circle cx="893.1" cy="159.4" r="5.8" fill="none" stroke="#2a2523" stroke-width="1.9" /><circle cx="893.1" cy="157.1" r="0.75" fill="#1c1816" stroke="#3a3431" stroke-width="0" /><circle cx="891.11" cy="160.55" r="0.75" fill="#1c1816" stroke="#3a3431" stroke-width="0" /><circle cx="895.09" cy="160.55" r="0.75" fill="#1c1816" stroke="#3a3431" stroke-width="0" /><ellipse cx="881.3" cy="159.4" rx="2.3" ry="4.9" fill="none" stroke="#3a3431" stroke-width="1.15" /><ellipse cx="905.3" cy="159.4" rx="2.3" ry="4.9" fill="none" stroke="#3a3431" stroke-width="1.15" /><ellipse cx="893.1" cy="170.8" rx="4.9" ry="2.5" fill="none" stroke="#3a3431" stroke-width="1.15" /><g transform="rotate(35 881.4 176.4)"><rect x="878" y="173.2" width="7" height="7" rx="0" fill="#ececec" stroke="#3a3431" stroke-width="1.1" /><rect x="879.6" y="175" width="3.8" height="3.6" rx="0" fill="none" stroke="#3a3431" stroke-width="0.9" /></g><circle cx="893.7" cy="182.2" r="2.5" fill="#1c1816" stroke="#3a3431" stroke-width="0" /><circle cx="892.9" cy="181.6" r="0.7" fill="#cfcfcf" stroke="#3a3431" stroke-width="0" /><circle cx="908.5" cy="176.6" r="1.1" fill="#1c1816" stroke="#3a3431" stroke-width="0" /><g transform="translate(1851.2 0) scale(-1 1)"><path d="M876.4 166.6 L873.6 170.4 L875.6 173.2 L873.4 177 L875.4 180 L875.4 186.4 L873.4 186.4 L873.4 188.2 L875.8 189.7 L901.6 189.7 Q903.4 191.6 905.4 189.7 L919.6 189.7 L920.4 186 L922.6 166.6 Q922.8 164.2 921 164 Q919.4 163.8 919 165.4 L913 162.6 L910.8 164.2" fill="none" stroke="#3a3431" stroke-width="1.3" stroke-linejoin="round"/><polyline points="920.6,168 918.6,188" fill="none" stroke="#3a3431" stroke-width="0.6" stroke-dasharray="1.2 0.8"/><circle cx="921" cy="165.6" r="1" fill="#ececec" stroke="#3a3431" stroke-width="0.7" /><polygon points="874.4,166.6 871.2,168.6 874.6,170.4" fill="#1c1816" stroke="#3a3431" stroke-width="0" /><polygon points="873.8,183.2 870.8,185.2 873.8,187" fill="#1c1816" stroke="#3a3431" stroke-width="0" /><polygon points="909.6,163.4 913,166.2 909,166.8" fill="#1c1816" stroke="#3a3431" stroke-width="0" /><circle cx="893.1" cy="159.4" r="17.6" fill="#ececec" stroke="#3a3431" stroke-width="1.1" /><circle cx="893.1" cy="159.4" r="16.1" fill="none" stroke="#3a3431" stroke-width="1" /><circle cx="893.1" cy="159.4" r="5.8" fill="none" stroke="#2a2523" stroke-width="1.9" /><circle cx="893.1" cy="157.1" r="0.75" fill="#1c1816" stroke="#3a3431" stroke-width="0" /><circle cx="891.11" cy="160.55" r="0.75" fill="#1c1816" stroke="#3a3431" stroke-width="0" /><circle cx="895.09" cy="160.55" r="0.75" fill="#1c1816" stroke="#3a3431" stroke-width="0" /><ellipse cx="881.3" cy="159.4" rx="2.3" ry="4.9" fill="none" stroke="#3a3431" stroke-width="1.15" /><ellipse cx="905.3" cy="159.4" rx="2.3" ry="4.9" fill="none" stroke="#3a3431" stroke-width="1.15" /><ellipse cx="893.1" cy="170.8" rx="4.9" ry="2.5" fill="none" stroke="#3a3431" stroke-width="1.15" /><g transform="rotate(35 881.4 176.4)"><rect x="878" y="173.2" width="7" height="7" rx="0" fill="#ececec" stroke="#3a3431" stroke-width="1.1" /><rect x="879.6" y="175" width="3.8" height="3.6" rx="0" fill="none" stroke="#3a3431" stroke-width="0.9" /></g><circle cx="893.7" cy="182.2" r="2.5" fill="#1c1816" stroke="#3a3431" stroke-width="0" /><circle cx="892.9" cy="181.6" r="0.7" fill="#cfcfcf" stroke="#3a3431" stroke-width="0" /><circle cx="908.5" cy="176.6" r="1.1" fill="#1c1816" stroke="#3a3431" stroke-width="0" /></g></g>
<g id="m_vsi"><polyline points="1071,128.4 1071,180.4" fill="none" stroke="#241f1d" stroke-width="1.56" /><path d="M1072 134.6 Q1079.4 134.4 1079.4 141.4 L1079.4 154.6" fill="none" stroke="#241f1d" stroke-width="1.2" /><path d="M1072 137 Q1077.2 137 1077.2 142.4 L1077.2 154.6" fill="none" stroke="#241f1d" stroke-width="0.72" /><polyline points="1216,128.4 1216,180.4" fill="none" stroke="#241f1d" stroke-width="1.56" /><path d="M1215 134.6 Q1208.1 134.4 1208.1 141.4 L1208.1 154.6" fill="none" stroke="#241f1d" stroke-width="1.2" /><path d="M1215 137 Q1210.3 137 1210.3 142.4 L1210.3 154.6" fill="none" stroke="#241f1d" stroke-width="0.72" /><polyline points="1071,155 1105.4,155" fill="none" stroke="#241f1d" stroke-width="1.92" /><polyline points="1181.8,155 1216,155" fill="none" stroke="#241f1d" stroke-width="1.92" /><polyline points="1071,157.8 1104.4,157.8" fill="none" stroke="#241f1d" stroke-width="0.96" /><polyline points="1182.8,157.8 1216,157.8" fill="none" stroke="#241f1d" stroke-width="0.96" /><rect x="1124.4" y="120.2" width="38.6" height="19.8" rx="0" fill="none" stroke="#241f1d" stroke-width="1.2" /><polyline points="1132.4,120.2 1132.4,140" fill="none" stroke="#241f1d" stroke-width="1.08" /><polyline points="1143.8,120.2 1143.8,140" fill="none" stroke="#241f1d" stroke-width="1.08" /><polyline points="1155,120.2 1155,140" fill="none" stroke="#241f1d" stroke-width="1.08" /><rect x="1120.2" y="123.8" width="4.2" height="7.4" rx="0" fill="none" stroke="#241f1d" stroke-width="0.96" /><rect x="1120.2" y="131.8" width="4.2" height="6.8" rx="0" fill="none" stroke="#241f1d" stroke-width="0.96" /><path d="M1120.2 122.4 L1110.4 122.4 Q1095.2 123.2 1093.9 134.6 L1094.6 139.6 Q1096.6 142.4 1100 141.2 Q1102.4 135 1108.4 132.2 Q1112.6 131 1114.4 134 L1115 140.4" fill="none" stroke="#241f1d" stroke-width="1.62" stroke-linejoin="round"/><path d="M1097 137.6 Q1098 127.6 1110.6 126" fill="none" stroke="#241f1d" stroke-width="0.72" /><circle cx="1097.9" cy="133.2" r="1.5" fill="none" stroke="#241f1d" stroke-width="1.32" /><circle cx="1108.6" cy="135.4" r="1.5" fill="none" stroke="#241f1d" stroke-width="1.32" /><path d="M1100.4 138.8 Q1103 133.4 1108 133.6" fill="none" stroke="#241f1d" stroke-width="1.2" /><rect x="1109.2" y="137" width="3.4" height="5.4" rx="0" fill="none" stroke="#241f1d" stroke-width="0.96" /><rect x="1097" y="141.6" width="5.8" height="5.8" rx="0" fill="none" stroke="#241f1d" stroke-width="0.96" /><polyline points="1096.4,143.6 1103.4,143.6" fill="none" stroke="#241f1d" stroke-width="0.84" /><polyline points="1096.4,145.4 1103.4,145.4" fill="none" stroke="#241f1d" stroke-width="0.84" /><polyline points="1098.6,147.4 1098.6,149.6 1105.8,149.6" fill="none" stroke="#241f1d" stroke-width="0.96" /><polyline points="1116.8,140.8 1172.6,140.8" fill="none" stroke="#241f1d" stroke-width="1.2" /><polyline points="1114.8,144.2 1172.6,144.2" fill="none" stroke="#241f1d" stroke-width="1.92" /><polyline points="1171.6,137.6 1171.6,144" fill="none" stroke="#241f1d" stroke-width="1.68" /><polyline points="1116.8,140.8 1116.8,144" fill="none" stroke="#241f1d" stroke-width="1.08" /><rect x="1106.4" y="145.2" width="74.2" height="17" rx="0" fill="none" stroke="#241f1d" stroke-width="1.56" /><polyline points="1121,153 1161.4,153" fill="none" stroke="#241f1d" stroke-width="1.32" /><polyline points="1124,154.8 1160,154.8" fill="none" stroke="#241f1d" stroke-width="0.84" /><path d="M1120.8 151 Q1123 150.8 1124.6 153 Q1124.4 156.6 1121.6 156.4" fill="none" stroke="#241f1d" stroke-width="1.2" /><circle cx="1124.6" cy="154.4" r="1.3" fill="none" stroke="#241f1d" stroke-width="0.84" /><path d="M1158 151.4 L1161.6 153.2 L1158 155" fill="none" stroke="#241f1d" stroke-width="0.96" /><polyline points="1130.2,147.6 1130.2,161" fill="none" stroke="#241f1d" stroke-width="0.96" /><polyline points="1133,147.6 1133,161" fill="none" stroke="#241f1d" stroke-width="0.96" /><polyline points="1136.4,147.6 1136.4,161" fill="none" stroke="#241f1d" stroke-width="0.96" /><polyline points="1145.2,147.6 1145.2,161" fill="none" stroke="#241f1d" stroke-width="0.96" /><polyline points="1151.8,147.6 1151.8,161" fill="none" stroke="#241f1d" stroke-width="0.96" /><polyline points="1155.4,147.6 1155.4,161" fill="none" stroke="#241f1d" stroke-width="0.96" /><polyline points="1127.4,147.6 1156.6,147.6" fill="none" stroke="#241f1d" stroke-width="1.68" /><polyline points="1128.8,150 1156,150" fill="none" stroke="#241f1d" stroke-width="0.96" /><polyline points="1128.8,157.6 1156,157.6" fill="none" stroke="#241f1d" stroke-width="0.96" /><polyline points="1126.4,160.8 1157.4,160.8" fill="none" stroke="#241f1d" stroke-width="1.44" /><polyline points="1127.4,146.4 1131.6,146.4" fill="none" stroke="#241f1d" stroke-width="1.2" /><polyline points="1110.6,162.6 1115,171.4 1170.6,171.4 1175.6,162.6" fill="none" stroke="#241f1d" stroke-width="1.2" /><polyline points="1113.6,168.6 1172.4,168.6" fill="none" stroke="#241f1d" stroke-width="0.96" /><polyline points="1116,170 1170,170" fill="none" stroke="#241f1d" stroke-width="0.72" stroke-dasharray="2.2 1"/><rect x="1071.6" y="173.4" width="143.8" height="7" rx="0" fill="none" stroke="#241f1d" stroke-width="1.44" /><rect x="1101.9" y="173.4" width="1.4" height="7" rx="0" fill="#ececec" stroke="#241f1d" stroke-width="0.96" /><rect x="1124.3" y="173.4" width="1.4" height="7" rx="0" fill="#ececec" stroke="#241f1d" stroke-width="0.96" /><rect x="1160.5" y="173.4" width="1.4" height="7" rx="0" fill="#ececec" stroke="#241f1d" stroke-width="0.96" /><rect x="1183.7" y="173.4" width="1.4" height="7" rx="0" fill="#ececec" stroke="#241f1d" stroke-width="0.96" /><polyline points="1071,172.8 1216,172.8" fill="none" stroke="#241f1d" stroke-width="0.6" /><polyline points="1071.6,161.8 1104.4,161.8" fill="none" stroke="#241f1d" stroke-width="1.08" /><path d="M1080.8 172.6 L1080.8 165.4 Q1080.8 162.6 1083.6 162.6 L1098.6 162.6 Q1101.4 162.6 1101.6 165.4 L1102 172.6" fill="none" stroke="#241f1d" stroke-width="1.2" /><polyline points="1082,171 1100.6,171" fill="none" stroke="#5d5855" stroke-width="1.56" stroke-dasharray="2.4 0.8"/><polyline points="1104.4,158 1104.4,172.6" fill="none" stroke="#241f1d" stroke-width="1.2" /><polyline points="1101.8,162 1106,172.6" fill="none" stroke="#241f1d" stroke-width="0.96" /><polyline points="1182.8,158 1182.8,172.6" fill="none" stroke="#241f1d" stroke-width="1.2" /><polyline points="1182.8,161.8 1215.4,161.8" fill="none" stroke="#241f1d" stroke-width="1.08" /><path d="M1186.2 172.6 L1186.4 168 Q1186.6 165.2 1189.4 165.2 L1203 165.2 Q1205.8 165.2 1205.8 168 L1205.8 172.6" fill="none" stroke="#241f1d" stroke-width="1.2" /><ellipse cx="1098.6" cy="177" rx="1.4" ry="2.6" fill="none" stroke="#241f1d" stroke-width="0.96" /><polyline points="1098.6,172.6 1098.6,188" fill="none" stroke="#241f1d" stroke-width="1.08" /><circle cx="1098.6" cy="186.4" r="0.8" fill="#241f1d" stroke="#241f1d" stroke-width="0" /><ellipse cx="1188.2" cy="177" rx="1.4" ry="2.6" fill="none" stroke="#241f1d" stroke-width="0.96" /><polyline points="1188.2,172.6 1188.2,188" fill="none" stroke="#241f1d" stroke-width="1.08" /><circle cx="1188.2" cy="186.4" r="0.8" fill="#241f1d" stroke="#241f1d" stroke-width="0" /><rect x="1080.8" y="181.4" width="17.2" height="6.2" rx="0" fill="none" stroke="#241f1d" stroke-width="1.08" /><rect x="1190" y="181.4" width="15.8" height="7" rx="0" fill="none" stroke="#241f1d" stroke-width="1.08" /><rect x="1073.2" y="190.2" width="35.4" height="7.4" rx="0" fill="none" stroke="#241f1d" stroke-width="1.32" /><polyline points="1075.6,190.2 1075.6,197.6" fill="none" stroke="#241f1d" stroke-width="0.96" /><rect x="1178.2" y="192.4" width="36" height="7.6" rx="0" fill="none" stroke="#241f1d" stroke-width="1.32" /><polyline points="1211.8,192.4 1211.8,200" fill="none" stroke="#241f1d" stroke-width="0.96" /><polygon points="1109.4,181.2 1119.6,181.2 1116.4,201.8 1109.6,201.8" fill="#ececec" stroke="#241f1d" stroke-width="1.44" /><polygon points="1167,181.2 1177.4,181.2 1177,201.8 1170.4,201.8" fill="#ececec" stroke="#241f1d" stroke-width="1.44" /><polyline points="1121.4,188 1121.4,197" fill="none" stroke="#241f1d" stroke-width="1.56" /><polyline points="1165.4,188 1165.4,197" fill="none" stroke="#241f1d" stroke-width="1.56" /><polyline points="1120.2,181.6 1133.9,200.2 1153,200.2 1166.4,181.6" fill="none" stroke="#241f1d" stroke-width="1.32" /><polyline points="1131,200.6 1155.2,200.6" fill="none" stroke="#241f1d" stroke-width="1.56" /></g>
<polyline points="276,173 276,194.7" fill="none" stroke="#4d4643" stroke-width="1.35" /><polygon points="276,198 273.5,192.5 276,194.04 278.5,192.5" fill="#1f1b19"/>
<polyline points="276,296.25 276,350.45" fill="none" stroke="#4d4643" stroke-width="1.35" /><polygon points="276,353.75 273.5,348.25 276,349.79 278.5,348.25" fill="#1f1b19"/>
<polyline points="357.5,227.5 357.5,257.3" fill="none" stroke="#4d4643" stroke-width="1.35" /><polygon points="357.5,260.6 355,255.1 357.5,256.64 360,255.1" fill="#1f1b19"/>
<polyline points="463.5,268.75 463.5,116.75 556.12,116.75" fill="none" stroke="#4a4441" stroke-width="1.05" /><polygon points="561.4,116.75 552.6,119.9 555.06,116.75 552.6,113.6" fill="#1f1b19"/>
<polyline points="676.5,142 874.12,142" fill="none" stroke="#4f4845" stroke-width="1.55" /><polygon points="879.4,142 870.6,145.15 873.06,142 870.6,138.85" fill="#1f1b19"/>
<polyline points="673.5,149.5 743,149.5 743,174.44" fill="none" stroke="#4d4643" stroke-width="1.2" /><polygon points="743,177.2 740.7,172.6 743,173.89 745.3,172.6" fill="#1f1b19"/>
<polyline points="754.5,263 754.5,286.7" fill="none" stroke="#4d4643" stroke-width="1.35" /><polygon points="754.5,290 752,284.5 754.5,286.04 757,284.5" fill="#1f1b19"/>
<polyline points="779.8,359.5 779.8,366.9" fill="none" stroke="#4d4643" stroke-width="1.35" /><polygon points="779.8,370.2 777.3,364.7 779.8,366.24 782.3,364.7" fill="#1f1b19"/>
<polyline points="846,354.8 884.5,354.8 884.5,367.5" fill="none" stroke="#4d4643" stroke-width="1.35" /><polygon points="884.5,370.8 882,365.3 884.5,366.84 887,365.3" fill="#1f1b19"/>
<polyline points="846.5,341 950.6,341 950.6,367.5" fill="none" stroke="#4d4643" stroke-width="1.35" /><polygon points="950.6,370.8 948.1,365.3 950.6,366.84 953.1,365.3" fill="#1f1b19"/>
<polyline points="986.25,142 1057.72,142" fill="none" stroke="#4d4643" stroke-width="1.35" /><polygon points="1063,142 1054.2,145.15 1056.66,142 1054.2,138.85" fill="#1f1b19"/>
<polyline points="1144.2,207.5 1144.2,272.95" fill="none" stroke="#4d4643" stroke-width="1.35" /><polygon points="1144.2,276.25 1141.7,270.75 1144.2,272.29 1146.7,270.75" fill="#1f1b19"/>
<polyline points="1055,258 968.97,203.72" fill="none" stroke="#4d4643" stroke-width="1.35" /><polygon points="964.5,200.9 973.62,202.93 969.86,204.28 970.26,208.26" fill="#1f1b19"/>
<polyline points="1165,332.5 1165,367" fill="none" stroke="#4d4643" stroke-width="1.35" /><polygon points="1165,370.3 1162.5,364.8 1165,366.34 1167.5,364.8" fill="#1f1b19"/>
<polyline points="1206.25,324.3 1249.25,324.3 1249.25,367" fill="none" stroke="#4d4643" stroke-width="1.35" /><polygon points="1249.25,370.3 1246.75,364.8 1249.25,366.34 1251.75,364.8" fill="#1f1b19"/>
<polygon points="276,359.5 292,383.25 260,383.25" fill="#ffffff" stroke="#4a403b" stroke-width="0.9" stroke-linejoin="miter"/>
<polygon points="780.2,374 796.2,397.9 764.2,397.9" fill="#ffffff" stroke="#4a403b" stroke-width="0.9" stroke-linejoin="miter"/>
<polygon points="884.5,374 900.5,397.9 868.5,397.9" fill="#ffffff" stroke="#4a403b" stroke-width="0.9" stroke-linejoin="miter"/>
<polygon points="950.7,374 966.7,397.9 934.7,397.9" fill="#ffffff" stroke="#4a403b" stroke-width="0.9" stroke-linejoin="miter"/>
<polygon points="1165,374 1180.8,397.9 1149.2,397.9" fill="#ffffff" stroke="#4a403b" stroke-width="0.9" stroke-linejoin="miter"/>
<polygon points="1249.2,374 1265,397.9 1233.4,397.9" fill="#ffffff" stroke="#4a403b" stroke-width="0.9" stroke-linejoin="miter"/>
<g font-family="Liberation Sans, Noto Sans CJK SC, sans-serif"><text x="332.2" y="137" font-size="13.6" fill="#171311" stroke="#171311" stroke-width="0.3">料仓</text>
<text x="322" y="152.5" font-size="14" letter-spacing="0.72" fill="#171311" stroke="#171311" stroke-width="0.36">Hopper</text>
<text x="237" y="260.4" font-size="13.8" fill="#171311" stroke="#171311" stroke-width="0.3">振动给料机</text>
<text x="217" y="278" font-size="14" letter-spacing="0.37" fill="#171311" stroke="#171311" stroke-width="0.36">Vibrating Feeder</text>
<text x="241.2" y="402.9" font-size="13.8" fill="#171311" stroke="#171311" stroke-width="0.3">给料机落料</text>
<text x="223.75" y="420" font-size="14" letter-spacing="0.33" fill="#171311" stroke="#171311" stroke-width="0.36">Feeder blanking</text>
<text x="380" y="348.8" font-size="13.7" fill="#171311" stroke="#171311" stroke-width="0.3">颚式破碎机</text>
<text x="375" y="367" font-size="14" letter-spacing="0.02" fill="#171311" stroke="#171311" stroke-width="0.36">Jaw Crusher</text>
<text x="535" y="147.9" font-size="13.7" fill="#171311" stroke="#171311" stroke-width="0.3">圆振动筛</text>
<text x="508" y="167" font-size="14" letter-spacing="0.37" fill="#171311" stroke="#171311" stroke-width="0.36">Vibrating Screen</text>
<text x="580.2" y="219.3" font-size="14" textLength="88.6" lengthAdjust="spacingAndGlyphs" fill="#171311" stroke="#171311" stroke-width="0.3">多缸液压圆锥破</text>
<text x="541.9" y="238" font-size="14" letter-spacing="0.3" fill="#171311" stroke="#171311" stroke-width="0.36">Hydraulic Cone Crusher</text>
<text x="632.5" y="359.2" font-size="13.7" fill="#171311" stroke="#171311" stroke-width="0.3">圆振动筛</text>
<text x="605.75" y="377.5" font-size="14" letter-spacing="0.35" fill="#171311" stroke="#171311" stroke-width="0.36">Vibrating Screen</text>
<text x="752.6" y="412.9" font-size="11.8" fill="#171311" stroke="#171311" stroke-width="0.3">成品石料1</text>
<text x="760.5" y="424.6" font-size="12" letter-spacing="0.04" fill="#171311" stroke="#171311" stroke-width="0.36">Stone1</text>
<text x="857.1" y="412.9" font-size="11.8" fill="#171311" stroke="#171311" stroke-width="0.3">成品石料2</text>
<text x="864.75" y="424.6" font-size="12" letter-spacing="0.24" fill="#171311" stroke="#171311" stroke-width="0.36">Stone2</text>
<text x="927.5" y="412.9" font-size="11.8" fill="#171311" stroke="#171311" stroke-width="0.3">成品石料3</text>
<text x="935" y="424.6" font-size="12" letter-spacing="0.19" fill="#171311" stroke="#171311" stroke-width="0.36">Stone3</text>
<text x="896.3" y="206.2" font-size="13.6" fill="#171311" stroke="#171311" stroke-width="0.3">对装颚破</text>
<text x="870.6" y="223.75" font-size="14" letter-spacing="-0.03" fill="#171311" stroke="#171311" stroke-width="0.36">Pair Jaw Crusher</text>
<text x="985.6" y="241.6" font-size="13.4" fill="#e8432e" stroke="#e8432e" stroke-width="0.3">返料</text>
<text x="967.5" y="259.5" font-size="14" letter-spacing="0.12" fill="#e8432e" stroke="#e8432e" stroke-width="0.36">Back feed</text>
<text x="1186.2" y="221.6" font-size="13.6" textLength="62" lengthAdjust="spacingAndGlyphs" fill="#171311" stroke="#171311" stroke-width="0.3">VSI制砂机</text>
<text x="1159.5" y="240" font-size="14" letter-spacing="0.22" fill="#171311" stroke="#171311" stroke-width="0.36">VSI Sand Making</text>
<text x="1189.5" y="258" font-size="14" letter-spacing="0.43" fill="#171311" stroke="#171311" stroke-width="0.36">Machine</text>
<text x="1033.2" y="319.7" font-size="13.7" fill="#171311" stroke="#171311" stroke-width="0.3">圆振动筛</text>
<text x="1006.25" y="337.5" font-size="14" letter-spacing="0.37" fill="#171311" stroke="#171311" stroke-width="0.36">Vibrating Screen</text>
<text x="1143.9" y="412.9" font-size="11.6" fill="#171311" stroke="#171311" stroke-width="0.3">成品砂1</text>
<text x="1148" y="424.5" font-size="12" letter-spacing="-0.36" fill="#171311" stroke="#171311" stroke-width="0.36">Sand1</text>
<text x="1227.5" y="412.9" font-size="11.8" fill="#171311" stroke="#171311" stroke-width="0.3">成品砂2</text>
<text x="1232" y="424.5" font-size="12" letter-spacing="-0.11" fill="#171311" stroke="#171311" stroke-width="0.36">Sand2</text></g>
</svg>
</body></html>
